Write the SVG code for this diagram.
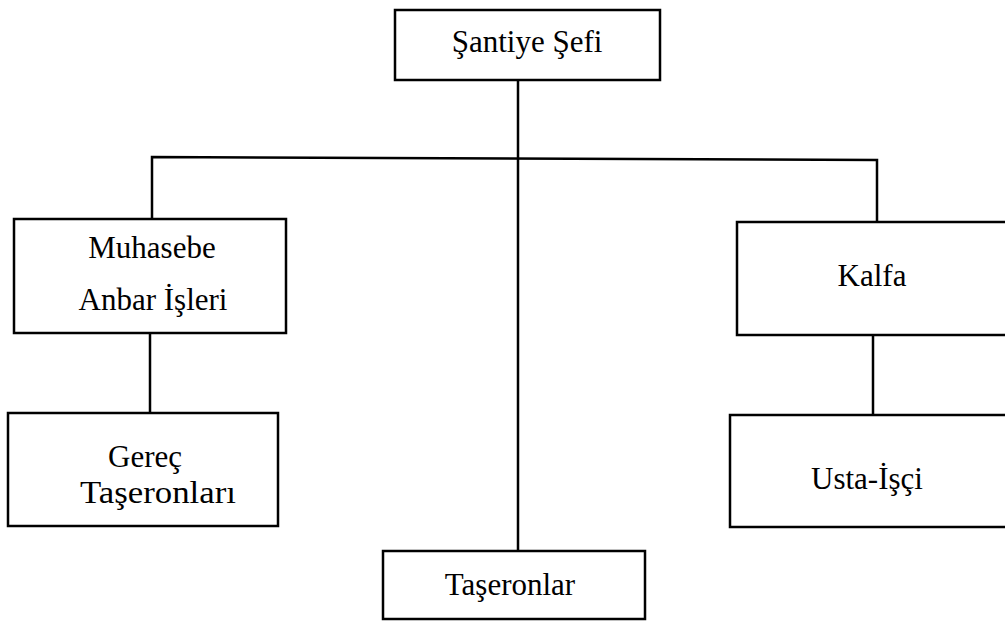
<svg xmlns="http://www.w3.org/2000/svg" width="1005" height="623" viewBox="0 0 1005 623">
  <style>
    .box { fill: #ffffff; stroke: #000000; stroke-width: 2.5; }
    .link { fill: none; stroke: #000000; stroke-width: 2.5; }
    .label { font-family: "Liberation Serif", "Times New Roman", serif; font-size: 31px; fill: #000000; text-anchor: middle; }
  </style>
  <rect width="1005" height="623" fill="#ffffff"/>

  <!-- connectors -->
  <g id="connectors">
    <line class="link" x1="518" y1="80" x2="518" y2="551"/>
    <polyline class="link" points="152,219 152,157 877,160 877,222"/>
    <line class="link" x1="150" y1="333" x2="150" y2="413"/>
    <line class="link" x1="873" y1="335" x2="873" y2="415"/>
  </g>

  <g id="santiye-sefi">
    <rect class="box" x="395" y="10" width="265" height="70"/>
    <text class="label" x="527" y="52">Şantiye Şefi</text>
  </g>

  <g id="muhasebe-anbar">
    <rect class="box" x="14" y="219" width="272" height="114"/>
    <text class="label" x="152" y="258">Muhasebe</text>
    <text class="label" x="153" y="310">Anbar İşleri</text>
  </g>

  <g id="kalfa">
    <rect class="box" x="737" y="222" width="280" height="113"/>
    <text class="label" x="872" y="286">Kalfa</text>
  </g>

  <g id="gerec-taseronlari">
    <rect class="box" x="8" y="413" width="270" height="113"/>
    <text class="label" x="145" y="467">Gereç</text>
    <text class="label" x="158" y="503" textLength="156" lengthAdjust="spacingAndGlyphs">Taşeronları</text>
  </g>

  <g id="usta-isci">
    <rect class="box" x="730" y="415" width="287" height="112"/>
    <text class="label" x="867" y="489">Usta-İşçi</text>
  </g>

  <g id="taseronlar">
    <rect class="box" x="383" y="551" width="262" height="68"/>
    <text class="label" x="510" y="595">Taşeronlar</text>
  </g>
</svg>
